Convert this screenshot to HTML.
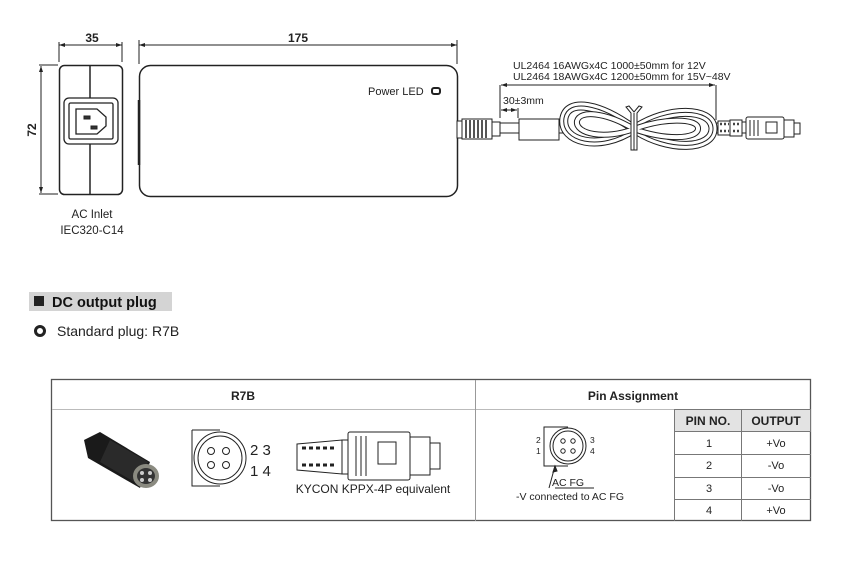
<!DOCTYPE html>
<html><head><meta charset="utf-8"><style>
html,body{margin:0;padding:0;background:#fff;}
svg{display:block;font-family:"Liberation Sans",Arial,sans-serif;}
</style></head><body>
<svg width="857" height="581" viewBox="0 0 857 581" xmlns="http://www.w3.org/2000/svg">
<defs>
<marker id="a" markerWidth="6" markerHeight="6" refX="6" refY="3" orient="auto-start-reverse"><path d="M0,1 L6,3 L0,5" fill="#222"/></marker>
<g id="loop">
<path d="M634,129 C600,105 570,100 566,118 C562,140 600,150 634,129 C668,108 708,110 710,128 C712,148 668,150 634,129 Z" fill="none"/>
</g>
</defs>
<g stroke="#222" fill="none" stroke-width="1">
<!-- side view -->
<line x1="59" y1="42" x2="59" y2="62"/><line x1="122" y1="42" x2="122" y2="62"/>
<line x1="59" y1="45" x2="122" y2="45" marker-start="url(#a)" marker-end="url(#a)"/>
<line x1="39" y1="65" x2="58" y2="65"/><line x1="39" y1="194" x2="58" y2="194"/>
<line x1="41" y1="66" x2="41" y2="193" marker-start="url(#a)" marker-end="url(#a)"/>
<rect x="59.5" y="65.5" width="63" height="129" rx="5" stroke-width="1.5"/>
<line x1="90" y1="66" x2="90" y2="194" stroke-width="1.5"/>
<rect x="64" y="98" width="54" height="46" rx="5" fill="#fff" stroke-width="1.3"/>
<rect x="69" y="103" width="44" height="36" rx="1.5" stroke-width="1.3"/>
<path d="M76,109 H97 L106,117 V126 L97,134 H76 Z" stroke-width="1.3"/>
<rect x="84" y="116" width="6" height="3" fill="#333"/>
<rect x="91" y="126" width="6" height="3" fill="#333"/>
<rect x="84" y="121" width="0" height="0"/>
<rect x="90" y="124" width="0" height="0"/>
<!-- main body -->
<line x1="139" y1="40" x2="139" y2="64"/><line x1="457" y1="40" x2="457" y2="64"/>
<line x1="139" y1="45" x2="457" y2="45" marker-start="url(#a)" marker-end="url(#a)"/>
<rect x="139.5" y="65.5" width="318" height="131" rx="11" stroke-width="1.5"/>
<line x1="139" y1="100" x2="139" y2="165" stroke-width="2.5"/>
<rect x="432" y="88" width="8" height="6" rx="2" stroke-width="2"/>
<!-- plug strain relief -->
<rect x="457" y="121" width="5" height="17" fill="#fff"/>
<rect x="462" y="119" width="30" height="20" fill="#fff"/>
<path d="M466,120 V138 M470,120 V138 M474,120 V138 M478,120 V138 M482,120 V138 M486,120 V138" stroke="#555" stroke-width="2"/>
<rect x="492" y="122" width="8" height="14" fill="#fff"/>
<!-- cable -->
<line x1="500" y1="123" x2="519" y2="123"/><line x1="500" y1="133" x2="519" y2="133"/>
<rect x="519" y="119" width="40" height="21" fill="#fff"/>
<line x1="559" y1="123" x2="566" y2="123"/><line x1="559" y1="133" x2="566" y2="133"/>
<line x1="710" y1="123" x2="718" y2="123"/><line x1="710" y1="133" x2="718" y2="133"/>
</g>
<!-- coiled cable -->
<g fill="none">
<path d="M634,129 C600,104 568,98 564,118 C560,142 600,152 634,129 C668,106 712,108 713,128 C714,150 668,152 634,129 Z" stroke="#222" stroke-width="9"/>
<path d="M634,129 C600,104 568,98 564,118 C560,142 600,152 634,129 C668,106 712,108 713,128 C714,150 668,152 634,129 Z" stroke="#fff" stroke-width="7"/>
<path d="M634,129 C600,104 568,98 564,118 C560,142 600,152 634,129 C668,106 712,108 713,128 C714,150 668,152 634,129 Z" stroke="#222" stroke-width="1"/>
<path d="M634,129 C605,112 580,110 577,121 C575,134 605,140 634,129 C663,118 697,118 698,128 C699,140 663,140 634,129 Z" stroke="#222" stroke-width="6"/>
<path d="M634,129 C605,112 580,110 577,121 C575,134 605,140 634,129 C663,118 697,118 698,128 C699,140 663,140 634,129 Z" stroke="#fff" stroke-width="4"/>
</g>
<g stroke="#222" fill="#fff" stroke-width="1">
<path d="M631,150 V113 L626,107 L629,106 L634,112 L639,106 L642,107 L637,113 V150 Z"/>
<line x1="634" y1="113" x2="634" y2="150"/>
<!-- DC plug on cable -->
<rect x="718" y="121" width="12" height="14"/>
<path d="M720,124h2M724,124h2M720,131h2M724,131h2M728,124h1M728,131h1" stroke-width="2.5" stroke="#444"/>
<rect x="730" y="120" width="12" height="16"/>
<path d="M733,124h2M737,124h2M733,131h2M737,131h2" stroke-width="2.5" stroke="#444"/>
<rect x="742" y="122" width="4" height="11"/>
<rect x="746" y="117" width="38" height="22" rx="2"/>
<path d="M750,120V136M754,120V136M758,120V136" />
<rect x="766" y="122" width="11" height="11"/>
<rect x="784" y="120" width="10" height="17"/>
<rect x="794" y="123" width="6" height="11"/>
<!-- dims cable -->
<line x1="500" y1="85" x2="500" y2="118"/>
<line x1="716" y1="85" x2="716" y2="120"/>
<line x1="501" y1="85" x2="715" y2="85" marker-start="url(#a)" marker-end="url(#a)"/>
<line x1="518" y1="108" x2="518" y2="118"/>
<line x1="501" y1="110" x2="517" y2="110" marker-start="url(#a)" marker-end="url(#a)"/>
</g>
<g fill="#222" font-size="10.5">
<text x="513" y="69">UL2464 16AWGx4C 1000±50mm for 12V</text>
<text x="513" y="80">UL2464 18AWGx4C 1200±50mm for 15V~48V</text>
<text x="503" y="104">30±3mm</text>
<text x="368" y="95" font-size="11">Power  LED</text>
<text x="92" y="42" font-weight="bold" font-size="12" text-anchor="middle">35</text>
<text x="298" y="42" font-weight="bold" font-size="12" text-anchor="middle">175</text>
<text transform="translate(36,130) rotate(-90)" font-weight="bold" font-size="12" text-anchor="middle">72</text>
<text x="92" y="218" font-size="11.5" text-anchor="middle">AC Inlet</text>
<text x="92" y="234" font-size="11.5" text-anchor="middle">IEC320-C14</text>
</g>
<!-- section header -->
<rect x="29" y="292" width="143" height="19" fill="#d4d4d4"/>
<rect x="34" y="296" width="10" height="10" fill="#222"/>
<text x="52" y="307" font-size="14.5" font-weight="bold" fill="#111">DC output plug</text>
<circle cx="40" cy="331" r="4.5" fill="none" stroke="#222" stroke-width="3"/>
<text x="57" y="336" font-size="14" fill="#222">Standard plug: R7B</text>
<!-- table -->
<g stroke="#666" fill="none" stroke-width="1">
<rect x="51.5" y="379.5" width="759" height="141" stroke="#555" stroke-width="1.3"/>
<line x1="52" y1="409.5" x2="674" y2="409.5" stroke="#bbb"/>
<line x1="475.5" y1="380" x2="475.5" y2="521" stroke="#999"/>
<rect x="674.5" y="409.5" width="136" height="22" fill="#e3e3e3" stroke="#777"/>
<line x1="674.5" y1="410" x2="674.5" y2="521" stroke="#777"/>
<line x1="741.5" y1="410" x2="741.5" y2="521" stroke="#777"/>
<line x1="675" y1="454.5" x2="811" y2="454.5" stroke="#777"/>
<line x1="675" y1="477.5" x2="811" y2="477.5" stroke="#777"/>
<line x1="675" y1="499.5" x2="811" y2="499.5" stroke="#777"/>
</g>
<g fill="#222" text-anchor="middle">
<text x="243" y="400" font-size="12" font-weight="bold">R7B</text>
<text x="633" y="400" font-size="12" font-weight="bold">Pin  Assignment</text>
<text x="708" y="425" font-size="12" font-weight="bold">PIN NO.</text>
<text x="776" y="425" font-size="12" font-weight="bold">OUTPUT</text>
<g font-size="11"><text x="709" y="447">1</text><text x="776" y="447">+Vo</text>
<text x="709" y="469">2</text><text x="776" y="469">-Vo</text>
<text x="709" y="492">3</text><text x="776" y="492">-Vo</text>
<text x="709" y="514">4</text><text x="776" y="514">+Vo</text></g>
<text x="570" y="500" font-size="10.5">-V connected to AC FG</text>
<text x="568" y="486" font-size="10.5">AC FG</text>
<text x="373" y="493" font-size="12">KYCON  KPPX-4P equivalent</text>
</g>
<!-- photo plug -->
<g>
<path d="M84,440 L100,432 L150,462 L140,488 L88,458 Z" fill="#1a1a1a"/>
<path d="M110,440 L148,462 L138,484 L100,462 Z" fill="#2a2a2a"/>
<ellipse cx="146" cy="476" rx="13" ry="12" fill="#8a8a80"/>
<ellipse cx="146" cy="476" rx="9" ry="8" fill="#333"/>
<circle cx="142" cy="473" r="2" fill="#ccc"/><circle cx="150" cy="473" r="2" fill="#ccc"/>
<circle cx="142" cy="480" r="2" fill="#ccc"/><circle cx="150" cy="480" r="2" fill="#ccc"/>
</g>
<!-- pin face -->
<g stroke="#222" fill="none" stroke-width="1">
<path d="M192,430 H220 M192,430 V486 H220"/>
<circle cx="220" cy="458" r="26"/>
<circle cx="220" cy="458" r="22"/>
<circle cx="211" cy="451" r="3.5"/><circle cx="226" cy="451" r="3.5"/>
<circle cx="211" cy="465" r="3.5"/><circle cx="226" cy="465" r="3.5"/>
</g>
<g fill="#222" font-size="15"><text x="250" y="455">2 3</text><text x="250" y="476">1 4</text></g>
<!-- KYCON drawing -->
<g stroke="#222" fill="#fff" stroke-width="1">
<path d="M297,444 L342,440 V474 L297,470 Z"/>
<path d="M302,448h4M309,448h4M316,448h4M323,448h4M330,448h4M302,465h4M309,465h4M316,465h4M323,465h4M330,465h4" stroke-width="3"/>
<rect x="342" y="440" width="6" height="34"/>
<rect x="348" y="432" width="62" height="48" rx="2"/>
<path d="M356,436V476M361,436V476M366,436V476"/>
<rect x="378" y="442" width="18" height="22"/>
<rect x="410" y="437" width="20" height="38"/>
<rect x="430" y="443" width="10" height="26"/>
</g>
<!-- pin assignment face -->
<g stroke="#222" fill="none" stroke-width="1">
<path d="M568,427 H544 V466 H568"/>
<circle cx="568" cy="446" r="18"/>
<circle cx="568" cy="446" r="15"/>
<circle cx="563" cy="441" r="2.2"/><circle cx="573" cy="441" r="2.2"/>
<circle cx="563" cy="451" r="2.2"/><circle cx="573" cy="451" r="2.2"/>
<path d="M549,488 L555,466" /><path d="M555,466 L553,472 L557,471 Z" fill="#222"/>
<line x1="555" y1="488" x2="594" y2="488"/>
</g>
<g fill="#222" font-size="8.5"><text x="536" y="443">2</text><text x="536" y="454">1</text><text x="590" y="443">3</text><text x="590" y="454">4</text></g>
</svg>
</body></html>
